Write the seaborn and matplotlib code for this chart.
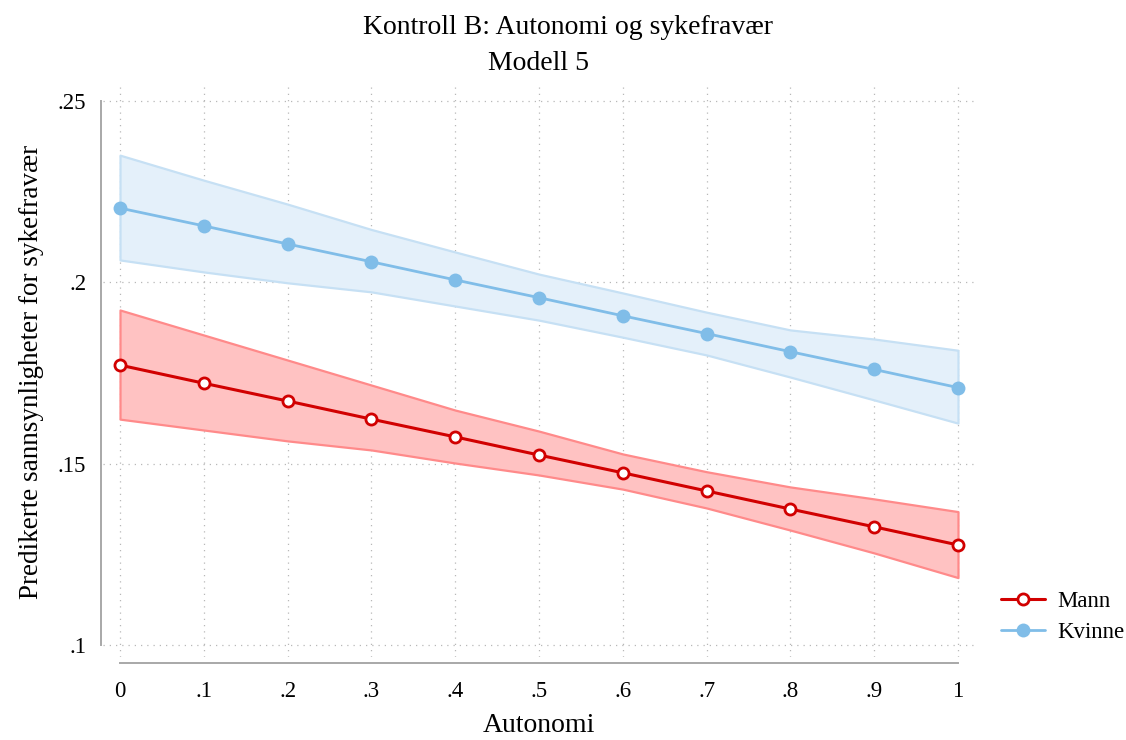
import numpy as np
import pandas as pd
import matplotlib
matplotlib.use("Agg")
import matplotlib.pyplot as plt
import seaborn as sns

# Predicted probabilities of sick leave by autonomy, with 95% CI
autonomi = [0.0, 0.1, 0.2, 0.3, 0.4, 0.5, 0.6, 0.7, 0.8, 0.9, 1.0]

mann = [0.1772, 0.1722, 0.1673, 0.1623, 0.1574, 0.1524, 0.1475, 0.1425, 0.1375, 0.1326, 0.1276]
mann_lo = [0.1623, 0.1593, 0.1563, 0.1538, 0.1502, 0.1469, 0.1430, 0.1378, 0.1317, 0.1254, 0.1186]
mann_hi = [0.1924, 0.1855, 0.1786, 0.1717, 0.1648, 0.1590, 0.1527, 0.1478, 0.1436, 0.1403, 0.1368]

kvinne = [0.2205, 0.2156, 0.2106, 0.2057, 0.2007, 0.1958, 0.1908, 0.1859, 0.1809, 0.1760, 0.1710]
kvinne_lo = [0.2062, 0.2029, 0.1999, 0.1974, 0.1935, 0.1896, 0.1849, 0.1800, 0.1739, 0.1676, 0.1612]
kvinne_hi = [0.2351, 0.2282, 0.2216, 0.2146, 0.2084, 0.2023, 0.1971, 0.1918, 0.1869, 0.1844, 0.1813]

x_ticks = [0.0, 0.1, 0.2, 0.3, 0.4, 0.5, 0.6, 0.7, 0.8, 0.9, 1.0]
x_ticklabels = ["0", ".1", ".2", ".3", ".4", ".5", ".6", ".7", ".8", ".9", "1"]
y_ticks = [0.10, 0.15, 0.20, 0.25]
y_ticklabels = [".1", ".15", ".2", ".25"]

title = "Kontroll B: Autonomi og sykefravær"
subtitle = "Modell 5"
xlabel = "Autonomi"
ylabel = "Predikerte sannsynligheter for sykefravær"

df = pd.DataFrame({
    "Autonomi": autonomi * 2,
    "p": mann + kvinne,
    "Kjønn": ["Mann"] * len(autonomi) + ["Kvinne"] * len(autonomi),
})

sns.set_theme(style="white")
plt.rcParams["font.family"] = ["Liberation Serif", "DejaVu Serif"]
plt.rcParams["text.color"] = "black"
plt.rcParams["axes.labelcolor"] = "black"

red = "#D10000"
red_fill = "#FFC2C2"
red_edge = "#FF8A8A"
blue = "#80BDE8"
blue_fill = "#E4F0FA"
blue_edge = "#C6E0F4"
grey = "#A8A8A8"

fig = plt.figure(figsize=(11.26, 7.40), dpi=100)
ax = fig.add_axes([103 / 1126, 1 - 657 / 740, (975 - 103) / 1126, (657 - 87) / 740])

# confidence bands
ax.fill_between(autonomi, kvinne_lo, kvinne_hi, facecolor=blue_fill, edgecolor=blue_edge,
                linewidth=1.6, zorder=2)
ax.fill_between(autonomi, mann_lo, mann_hi, facecolor=red_fill, edgecolor=red_edge,
                linewidth=1.6, zorder=2)

sns.lineplot(data=df[df["Kjønn"] == "Mann"], x="Autonomi", y="p", ax=ax, color=red,
             linewidth=2.2, marker="o", markersize=8, markerfacecolor="white",
             markeredgecolor=red, markeredgewidth=2.0, label="Mann", zorder=4)
sns.lineplot(data=df[df["Kjønn"] == "Kvinne"], x="Autonomi", y="p", ax=ax, color=blue,
             linewidth=2.0, marker="o", markersize=10, markerfacecolor=blue,
             markeredgecolor=blue, markeredgewidth=0, label="Kvinne", zorder=4)

ax.set_xlim(-0.0203, 1.0203)
ax.set_ylim(0.0967, 0.2539)

ax.set_xticks(x_ticks)
ax.set_xticklabels(x_ticklabels)
ax.set_yticks(y_ticks)
ax.set_yticklabels(y_ticklabels)

ax.grid(True, which="major", color="#B8B8B8", linestyle=(0, (1, 4)), linewidth=0.9, zorder=0)
ax.set_axisbelow(True)

for side in ["top", "right"]:
    ax.spines[side].set_visible(False)
ax.spines["left"].set_position(("outward", 1.5))
ax.spines["bottom"].set_position(("outward", 4))
ax.spines["left"].set_bounds(0.10, 0.25)
ax.spines["bottom"].set_bounds(0.0, 1.0)
for side in ["left", "bottom"]:
    ax.spines[side].set_color(grey)
    ax.spines[side].set_linewidth(1.4)

ax.tick_params(axis="both", direction="out", length=6.5, width=1.2, color=grey,
               labelsize=16.5, labelcolor="black", pad=4)
ax.tick_params(axis="x", pad=7)

ax.set_xlabel(xlabel, fontsize=20, labelpad=8, color="black")
ax.set_ylabel(ylabel, fontsize=19.5, labelpad=10, color="black")

fig.text(568 / 1126, 1 - 28 / 740, title, ha="center", va="center", fontsize=20, color="black")
fig.text(539 / 1126, 1 - 63 / 740, subtitle, ha="center", va="center", fontsize=20, color="black")

handles, labels = ax.get_legend_handles_labels()
leg = ax.legend(handles, labels, loc="center left", bbox_to_anchor=(992 / 1126, 1 - 617 / 740),
                bbox_transform=fig.transFigure, frameon=False, fontsize=16.5,
                handlelength=1.9, handletextpad=0.55, labelspacing=0.45, borderaxespad=0)
for t in leg.get_texts():
    t.set_color("black")

fig.savefig("out.png", dpi=100)
